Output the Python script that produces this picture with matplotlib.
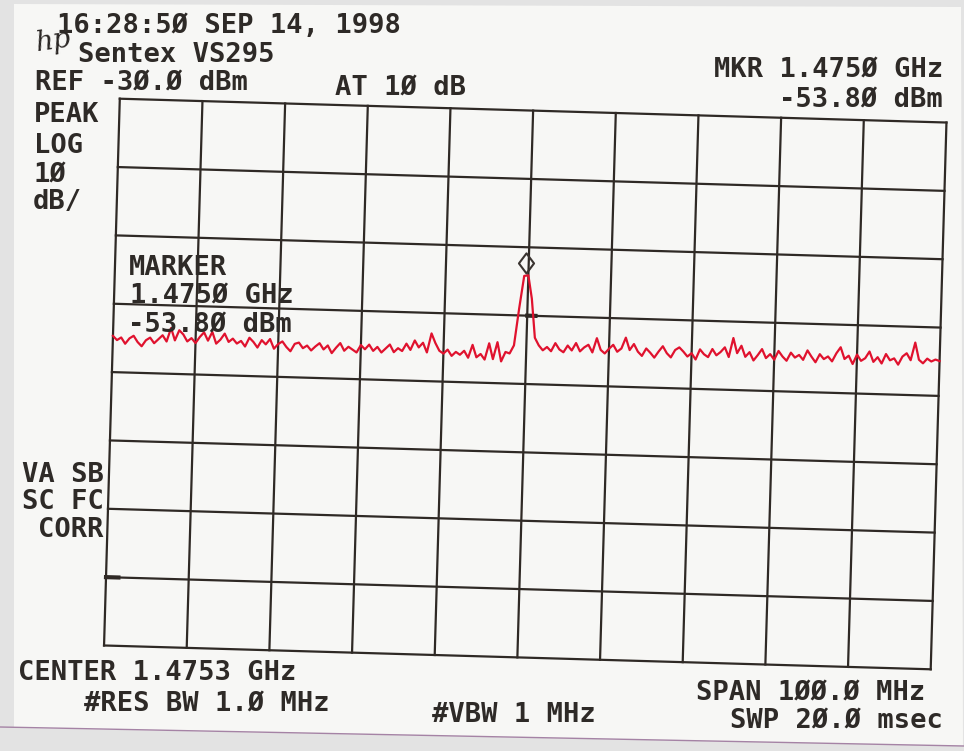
import matplotlib

matplotlib.use('Agg')

import matplotlib.pyplot as plt
import numpy as np
from matplotlib.patches import Polygon
from matplotlib.path import Path
from matplotlib.transforms import Affine2D

W, H, DPI = 964, 751, 100

# analyzer settings
ref_level = -30.0
db_per_div = 10
n_vdiv = 8
center_mhz = 1475.3
span_mhz = 100.0
n_hdiv = 10
marker_mhz = 1475.0
marker_dbm = -53.80

# trace (dBm), 201 points across the span
trace_dbm = [
    -64.7, -65.3, -64.9, -65.8, -65.0, -64.6, -65.5, -66.1, -65.2, -64.8,
    -65.6, -65.0, -64.4, -65.3, -63.3, -65.1, -63.6, -64.2, -65.2, -64.7,
    -65.4, -64.5, -63.8, -65.0, -63.7, -65.4, -64.8, -63.9, -65.1, -64.6,
    -65.3, -64.9, -65.7, -64.4, -65.0, -65.8, -64.7, -65.3, -64.5, -65.9,
    -65.2, -64.8, -65.6, -66.2, -65.1, -64.9, -65.7, -65.3, -66.0, -65.4,
    -64.9, -65.8, -65.2, -66.3, -65.5, -64.8, -65.9, -65.3, -65.7, -66.1,
    -65.0, -65.6, -64.9, -65.8, -65.2, -66.0, -65.4, -64.8, -65.9, -65.3,
    -65.7, -64.6, -65.5, -64.1, -65.1, -64.4, -65.8, -63.0, -64.4, -65.5,
    -65.9, -65.3, -66.2, -65.6, -66.0, -65.4, -66.4, -64.5, -66.3, -65.8,
    -66.6, -64.2, -66.5, -64.0, -66.8, -65.4,
    -65.6, -64.4, -59.0, -54.2, -54.1, -57.5, -63.2,
    -64.3, -65.0, -64.5, -65.1, -63.9, -64.8, -65.2, -64.2, -64.9, -63.8,
    -65.0, -64.4, -64.0, -65.1, -63.0, -64.7, -65.2, -64.5, -63.9, -64.9,
    -64.4, -62.8, -64.6, -63.7, -64.8, -65.4, -64.3, -64.9, -65.6, -64.7,
    -63.9, -64.9, -65.5, -64.4, -64.0, -64.6, -65.3, -64.8, -65.7, -64.2,
    -64.9, -65.3, -64.1, -65.0, -64.5, -63.8, -65.2, -62.4, -64.6, -63.5,
    -65.1, -64.4, -65.6, -64.8, -63.9, -65.2, -64.6, -65.4, -64.1, -64.9,
    -65.5, -64.3, -65.0, -64.6, -65.3, -63.9, -64.8, -65.6, -64.4, -65.1,
    -64.7, -65.4, -64.2, -63.3, -65.0, -64.5, -65.7, -64.3, -65.2, -64.8,
    -63.8, -65.3, -64.6, -65.5, -64.1, -65.0, -64.7, -65.6, -64.4, -63.9,
    -64.9, -62.3, -64.8, -65.3, -64.6, -65.0, -64.7, -64.9,
]

f_start = center_mhz - span_mhz / 2
f_stop = center_mhz + span_mhz / 2
freq_mhz = np.linspace(f_start, f_stop, len(trace_dbm))
bottom_level = ref_level - n_vdiv * db_per_div

INK = '#2f2925'
RED = '#e0122e'
MONO = 'DejaVu Sans Mono'
TILT = -1.65

fig = plt.figure(figsize=(W / DPI, H / DPI), dpi=DPI, facecolor='#e3e3e3')

# scanned sheet of paper
paper = Polygon([(14 / W, 1 - 4 / H), (961 / W, 1 - 7 / H), (963 / W, 1 - 746 / H), (14 / W, 1 - 728 / H)],
                closed=True, transform=fig.transFigure, facecolor='#f7f7f5', edgecolor='none', zorder=0)
fig.add_artist(paper)
fig.add_artist(plt.Line2D([0, 1], [1 - 727 / H, 1 - 746 / H], transform=fig.transFigure,
                          color='#a583a5', lw=1.0, zorder=1))

# graticule box (unrotated), then tilted like the scan
cx, cy, gw, gh = 525.25, 384.0, 827.0, 547.0
ax = fig.add_axes([(cx - gw / 2) / W, (H - cy - gh / 2) / H, gw / W, gh / H])
ax.set_xlim(f_start, f_stop)
ax.set_ylim(bottom_level, ref_level)
ax.axis('off')
tilt = Affine2D().rotate_deg_around(cx, H - cy, TILT)
trans = ax.transData + tilt

for xg in np.linspace(f_start, f_stop, n_hdiv + 1):
    ax.plot([xg, xg], [bottom_level, ref_level], color=INK, lw=1.6, transform=trans, clip_on=False)
for yg in np.linspace(bottom_level, ref_level, n_vdiv + 1):
    ax.plot([f_start, f_stop], [yg, yg], color=INK, lw=1.6, transform=trans, clip_on=False)

# small display-line stubs
ax.plot([center_mhz, center_mhz + 1.0], [-60, -60], color=INK, lw=3, transform=trans, clip_on=False)
ax.plot([f_start, f_start + 1.5], [-100, -100], color=INK, lw=3, transform=trans, clip_on=False)

ax.plot(freq_mhz, trace_dbm, color=RED, lw=1.6, transform=trans, clip_on=False, zorder=3)

# marker diamond sitting on the peak
diamond = Path([(0, 0), (0.75, 1), (0, 2), (-0.75, 1), (0, 0)],
               [Path.MOVETO, Path.LINETO, Path.LINETO, Path.LINETO, Path.CLOSEPOLY])
ax.plot([marker_mhz], [marker_dbm], marker=diamond, markersize=29, markerfacecolor='none',
        markeredgecolor='#3a3430', markeredgewidth=1.5, transform=trans, clip_on=False, zorder=4)


def put(x, y, s, ha='left', size=19.5, **kw):
    fig.text(x / W, 1 - y / H, s, ha=ha, va='baseline', fontsize=size, family=MONO, color='#2e2a27',
             fontweight='bold', **kw)


put(57, 33, '16:28:5Ø SEP 14, 1998')
fig.text(34 / W, 1 - 51 / H, 'hp', fontsize=20, family='DejaVu Serif', style='italic', color='#2a2624',
         rotation=8)
put(78, 62, 'Sentex VS295')
put(35, 90, 'REF -3Ø.Ø dBm')
put(335, 95, 'AT 1Ø dB')
put(943, 77, 'MKR 1.475Ø GHz', ha='right')
put(943, 107, '-53.8Ø dBm', ha='right')
put(34, 122, 'PEAK')
put(34, 153, 'LOG')
put(34, 182, '1Ø')
put(33, 209, 'dB/')
put(129, 275, 'MARKER')
put(130, 303, '1.475Ø GHz')
put(128, 332, '-53.8Ø dBm')
put(104, 482, 'VA SB', ha='right')
put(104, 509, 'SC FC', ha='right')
put(104, 537, 'CORR', ha='right')
put(18, 680, 'CENTER 1.4753 GHz')
put(84, 711, '#RES BW 1.Ø MHz')
put(432, 722, '#VBW 1 MHz')
put(925, 700, 'SPAN 1ØØ.Ø MHz', ha='right')
put(943, 728, 'SWP 2Ø.Ø msec', ha='right')

fig.savefig('out.png', dpi=DPI, facecolor=fig.get_facecolor())
